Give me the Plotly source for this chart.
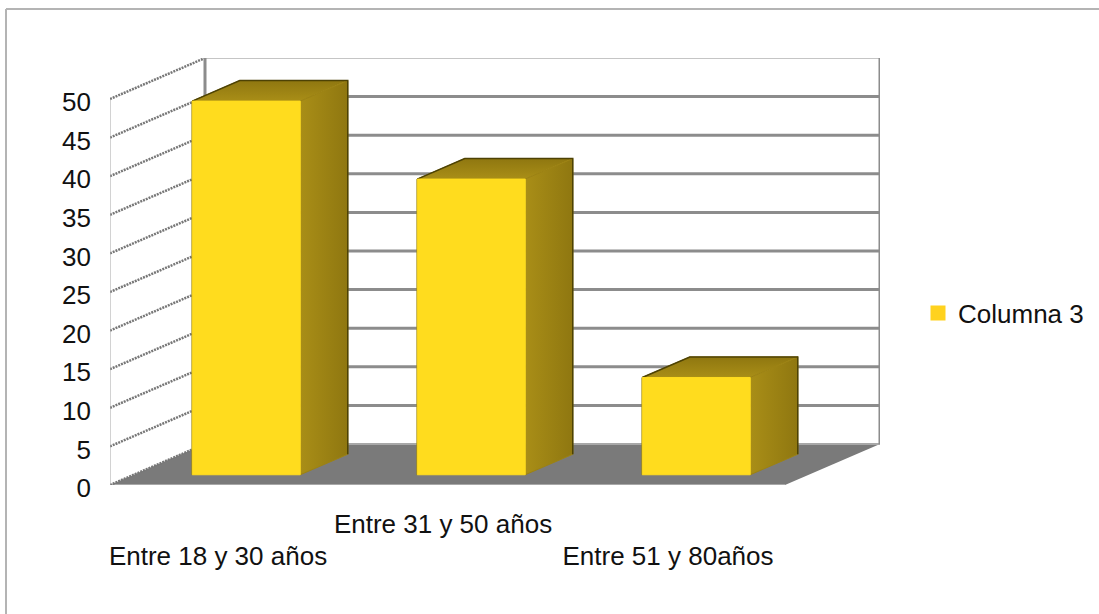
import plotly.graph_objects as go

categories = ["Entre 18 y 30 años", "Entre 31 y 50 años", "Entre 51 y 80años"]
values = [48.4, 38.3, 12.6]
y_ticks = list(range(0, 55, 5))
series_name = "Columna 3"

# pixel layout of the plot frame
L, R, T, B = 110, 880, 58, 485
PX_X = 225.0       # pixels per category
PX_Y = 7.72        # pixels per value unit
DX = 95 / PX_X     # depth offset in x units
DY = 41 / PX_Y     # depth offset in y units
BAR_W = 108 / PX_X
D0, D1 = 0.25, 0.75
XMAX = 3.0
YMAX = 50.0
FONT = "Liberation Sans, Arial, sans-serif"


def p(x, y, d):
    return x + d * DX, y + d * DY


def poly(points, fill=None, line=None, width=1, dash=None, close=True, gradient=None):
    xs, ys = zip(*points)
    xs, ys = list(xs), list(ys)
    if close:
        xs.append(xs[0])
        ys.append(ys[0])
    kw = {}
    if gradient:
        kw["fillgradient"] = gradient
    return go.Scatter(
        x=xs, y=ys, mode="lines", showlegend=False, hoverinfo="skip",
        fill="toself" if (fill or gradient) else "none", fillcolor=fill,
        line=dict(color=line or "rgba(0,0,0,0)", width=width, dash=dash), **kw,
    )


fig = go.Figure()

# floor
fig.add_trace(poly([p(0, 0, 0), p(XMAX, 0, 0), p(XMAX, 0, 1), p(0, 0, 1)], fill="#7a7a7a"))
fig.add_trace(poly([p(0, 0, 1), p(XMAX, 0, 1)], line="#a8a8a8", width=2, close=False))
fig.add_trace(poly([p(0, 0, 0), p(XMAX, 0, 0)], line="#a8a8a8", width=2, close=False))

# walls and gridlines
for t in y_ticks:
    if t > 0:
        fig.add_trace(poly([p(0, t, 1), p(XMAX, t, 1)], line="#8c8c8c",
                           width=1 if t == YMAX else 3, close=False))
    fig.add_trace(poly([p(0, t, 0), p(0, t, 1)], line="#777777", width=2.5,
                       dash="2px,1px", close=False))
fig.add_trace(poly([p(0, 0, 0), p(0, YMAX, 0)], line="#a6a6a6", width=1, close=False))
fig.add_trace(poly([p(0, 0, 1), p(0, YMAX, 1)], line="#8c8c8c", width=3, close=False))
fig.add_trace(poly([p(XMAX, 0, 1), p(XMAX, YMAX, 1)], line="#8c8c8c", width=3, close=False))

# bars
for i, v in enumerate(values):
    x0 = i + 0.5 - BAR_W / 2
    x1 = i + 0.5 + BAR_W / 2
    fig.add_trace(poly([p(x0, v, D0), p(x1, v, D0), p(x1, v, D1), p(x0, v, D1)],
                       gradient=dict(type="vertical",
                                     colorscale=[[0, "#a98e17"], [1, "#8f7710"]]),
                       line="#a18714"))
    fig.add_trace(poly([p(x1, 0, D0), p(x1, v, D0), p(x1, v, D1), p(x1, 0, D1)],
                       gradient=dict(type="horizontal",
                                     colorscale=[[0, "#a98e17"], [1, "#8f7710"]]),
                       line="#9c8213"))
    fig.add_trace(poly([p(x0, v, D0), p(x0, v, D1), p(x1, v, D1), p(x1, 0, D1)],
                       line="#4d4204", width=1.5, close=False))
    fig.add_trace(poly([p(x0, 0, D0), p(x0, v, D0)], line="#6b5a08", width=1.5, close=False))
    fig.add_trace(poly([p(x0, 0, D0), p(x1, 0, D0), p(x1, v, D0), p(x0, v, D0)],
                       fill="#ffdc1e", line="#ffdc1e"))

# legend entry
fig.add_trace(go.Scatter(
    x=[None], y=[None], mode="markers", name=series_name,
    marker=dict(symbol="square", size=15, color="#ffd21e"),
))
# carries the second (staggered) row of category labels
fig.add_trace(go.Scatter(x=[None], y=[None], xaxis="x2", showlegend=False, hoverinfo="skip"))

W_PLOT = R - L
H_PLOT = B - T
x_range = [0, W_PLOT / PX_X]
tick_pos = [i + 0.48 for i in range(len(categories))]
x_common = dict(range=x_range, showgrid=False, zeroline=False, showline=False,
                tickmode="array", ticks="", tickangle=0)
fig.update_layout(
    width=1099, height=614,
    margin=dict(l=L, r=1099 - R, t=T, b=614 - B, pad=0),
    paper_bgcolor="white", plot_bgcolor="white",
    font=dict(family=FONT, size=26, color="#111111"),
    xaxis=dict(tickvals=tick_pos[1:2], ticktext=categories[1:2], ticklabelstandoff=21, **x_common),
    xaxis2=dict(tickvals=tick_pos[0::2], ticktext=categories[0::2], ticklabelstandoff=53,
                overlaying="x", anchor="y", side="bottom", **x_common),
    yaxis=dict(
        range=[0, H_PLOT / PX_Y], showgrid=False, zeroline=False, showline=False,
        tickmode="array", tickvals=y_ticks, ticks="", ticklabelstandoff=18, ticklabelshift=3,
    ),
    legend=dict(xref="container", yref="container", x=918 / 1099, y=1 - 313 / 614,
                xanchor="left", yanchor="middle",
                font=dict(size=26), bgcolor="rgba(0,0,0,0)"),
    showlegend=True,
    shapes=[
        dict(type="line", xref="paper", yref="paper", x0=(6 - L) / W_PLOT, x1=(1099 - L) / W_PLOT,
             y0=(B - 9) / H_PLOT, y1=(B - 9) / H_PLOT, line=dict(color="#b4b4b4", width=2)),
        dict(type="line", xref="paper", yref="paper", x0=(6 - L) / W_PLOT, x1=(6 - L) / W_PLOT,
             y0=(B - 9) / H_PLOT, y1=(B - 614) / H_PLOT, line=dict(color="#b4b4b4", width=2)),
    ],
)

fig.write_html("out.html", config={"displayModeBar": False},
               post_script="document.body.style.margin='0';")
